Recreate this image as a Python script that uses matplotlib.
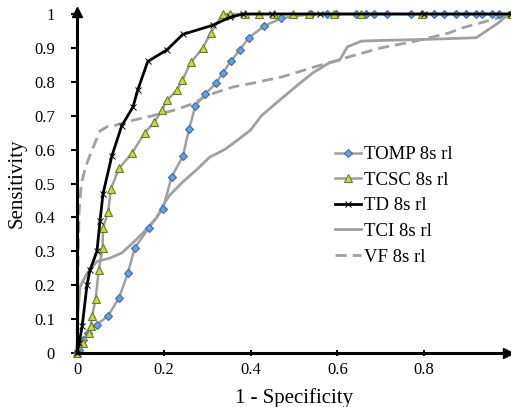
#!/usr/bin/env python3
"""ROC curves for five 8s rl detectors (sensitivity vs 1 - specificity)."""

import matplotlib
matplotlib.use("Agg")
import matplotlib.pyplot as plt

# --- data ---
tomp_x = [0, 0.005, 0.014, 0.025, 0.045, 0.072, 0.097, 0.117, 0.133, 0.166, 0.198,
          0.218, 0.244, 0.258, 0.273, 0.295, 0.32, 0.336, 0.354, 0.375, 0.396,
          0.432, 0.47, 0.54, 0.577, 0.597, 0.643, 0.667, 0.685, 0.715, 0.77,
          0.795, 0.823, 0.846, 0.873, 0.897, 0.92, 0.933, 0.956, 0.972, 1.0]
tomp_y = [0, 0.01, 0.038, 0.06, 0.083, 0.11, 0.163, 0.235, 0.31, 0.37, 0.425,
          0.52, 0.58, 0.66, 0.73, 0.764, 0.795, 0.826, 0.86, 0.894, 0.93,
          0.965, 0.987, 1, 1, 1, 1, 1, 1, 1, 1,
          1, 1, 1, 1, 1, 1, 1, 1, 1, 1]

tcsc_x = [0, 0.014, 0.028, 0.032, 0.035, 0.043, 0.05, 0.059, 0.06, 0.072, 0.078,
          0.097, 0.127, 0.156, 0.178, 0.196, 0.207, 0.23, 0.243, 0.262, 0.29,
          0.308, 0.336, 0.352, 0.386, 0.42, 0.455, 0.497, 0.535, 0.593, 0.655,
          0.795, 1.0]
tcsc_y = [0, 0.03, 0.06, 0.08, 0.11, 0.16, 0.245, 0.31, 0.37, 0.416, 0.484,
          0.545, 0.59, 0.65, 0.68, 0.717, 0.745, 0.775, 0.805, 0.857, 0.90,
          0.944, 1, 1, 1, 1, 1, 1, 1, 1, 1,
          1, 1]

td_x = [0, 0.005, 0.012, 0.023, 0.03, 0.046, 0.053, 0.06, 0.08, 0.103, 0.129,
        0.14, 0.163, 0.207, 0.244, 0.313, 0.352, 0.382, 0.45, 0.56, 0.8, 1.0]
td_y = [0, 0.03, 0.08, 0.2, 0.245, 0.30, 0.39, 0.47, 0.58, 0.67, 0.726,
        0.776, 0.86, 0.894, 0.94, 0.967, 0.99, 1, 1, 1, 1, 1]

tci_x = [0, 0.002, 0.007, 0.023, 0.046, 0.076, 0.103, 0.129, 0.152, 0.184, 0.2,
         0.214, 0.244, 0.275, 0.306, 0.34, 0.37, 0.40, 0.425, 0.467, 0.508,
         0.543, 0.58, 0.605, 0.623, 0.655, 0.7, 0.8, 0.92, 0.97, 0.99, 1.0]
tci_y = [0, 0.12, 0.195, 0.235, 0.27, 0.28, 0.295, 0.325, 0.354, 0.40, 0.44,
         0.466, 0.505, 0.54, 0.578, 0.60, 0.628, 0.658, 0.70, 0.746, 0.79,
         0.826, 0.855, 0.864, 0.903, 0.92, 0.922, 0.925, 0.93, 0.973, 0.995, 1.0]

vf_x = [0, 0.001, 0.003, 0.005, 0.01, 0.02, 0.035, 0.053, 0.07, 0.09, 0.13,
        0.175, 0.22, 0.267, 0.30, 0.36, 0.42, 0.474, 0.55, 0.628, 0.70,
        0.78, 0.857, 0.89, 0.933, 0.975, 1.0]
vf_y = [0, 0.15, 0.3, 0.42, 0.5, 0.55, 0.6, 0.655, 0.668, 0.672, 0.687,
        0.70, 0.715, 0.735, 0.76, 0.785, 0.80, 0.815, 0.845, 0.874, 0.90,
        0.92, 0.944, 0.96, 0.975, 0.99, 1.0]

labels = ["TOMP 8s rl", "TCSC 8s rl", "TD 8s rl", "TCI 8s rl", "VF 8s rl"]
x_ticks = [0, 0.2, 0.4, 0.6, 0.8]
y_ticks = [0, 0.1, 0.2, 0.3, 0.4, 0.5, 0.6, 0.7, 0.8, 0.9, 1]
tick_labels_x = ["0", "0.2", "0.4", "0.6", "0.8"]
tick_labels_y = ["0", "0.1", "0.2", "0.3", "0.4", "0.5", "0.6", "0.7", "0.8", "0.9", "1"]

plt.rcParams["font.family"] = ["Liberation Serif", "DejaVu Serif"]

fig = plt.figure(figsize=(5.11, 4.07), dpi=100)
ax = fig.add_axes([77 / 511, 1 - 353 / 407, 434 / 511, 339 / 407])

grey = "#a0a0a0"
ax.plot(vf_x, vf_y, color=grey, lw=2, ls=(0, (4, 2.2)), label=labels[4], clip_on=False, zorder=2)
ax.plot(tci_x, tci_y, color=grey, lw=2, label=labels[3], clip_on=False, zorder=2)
ax.plot(tomp_x, tomp_y, color=grey, lw=1.8, marker="D", ms=4.5, mfc="#6f9fd8",
        mec="#3d6aa6", mew=0.8, label=labels[0], clip_on=False, zorder=3)
ax.plot(tcsc_x, tcsc_y, color=grey, lw=1.8, marker="^", ms=6, mfc="#c9d94a",
        mec="#6d7a22", mew=0.8, label=labels[1], clip_on=False, zorder=4)
ax.plot(td_x, td_y, color="black", lw=2, marker="x", ms=5, mew=0.7,
        label=labels[2], clip_on=False, zorder=5)

ax.set_xlim(0, 1.0)
ax.set_ylim(0, 1.0)
ax.set_xticks(x_ticks)
ax.set_xticklabels(tick_labels_x)
ax.set_yticks(y_ticks)
ax.set_yticklabels(tick_labels_y)
ax.tick_params(axis="x", direction="inout", length=5, width=1.5, labelsize=12, pad=4)
ax.tick_params(axis="y", direction="out", length=4, width=1.5, labelsize=12, pad=12)

for side in ("top", "right"):
    ax.spines[side].set_visible(False)
for side in ("left", "bottom"):
    ax.spines[side].set_linewidth(2.2)
    ax.spines[side].set_zorder(6)

# arrow heads at the axis ends
ax.plot(0.992, 0, marker=">", color="black", ms=7, transform=ax.transAxes, clip_on=False, zorder=7)
ax.plot(0, 1.005, marker="^", color="black", ms=7, transform=ax.transAxes, clip_on=False, zorder=7)

ax.set_xlabel("1 - Specificity", fontsize=15, labelpad=7)
ax.set_ylabel("Sensitivity", fontsize=15, labelpad=5)

handles, labs = ax.get_legend_handles_labels()
order = [labs.index(l) for l in labels]
ax.legend([handles[i] for i in order], [labs[i] for i in order],
          loc="upper left", bbox_to_anchor=(0.555, 0.66), frameon=False,
          fontsize=13.5, handlelength=1.4, handletextpad=0.15, labelspacing=0.45)

fig.savefig("out.png", dpi=100)
plt.close(fig)
